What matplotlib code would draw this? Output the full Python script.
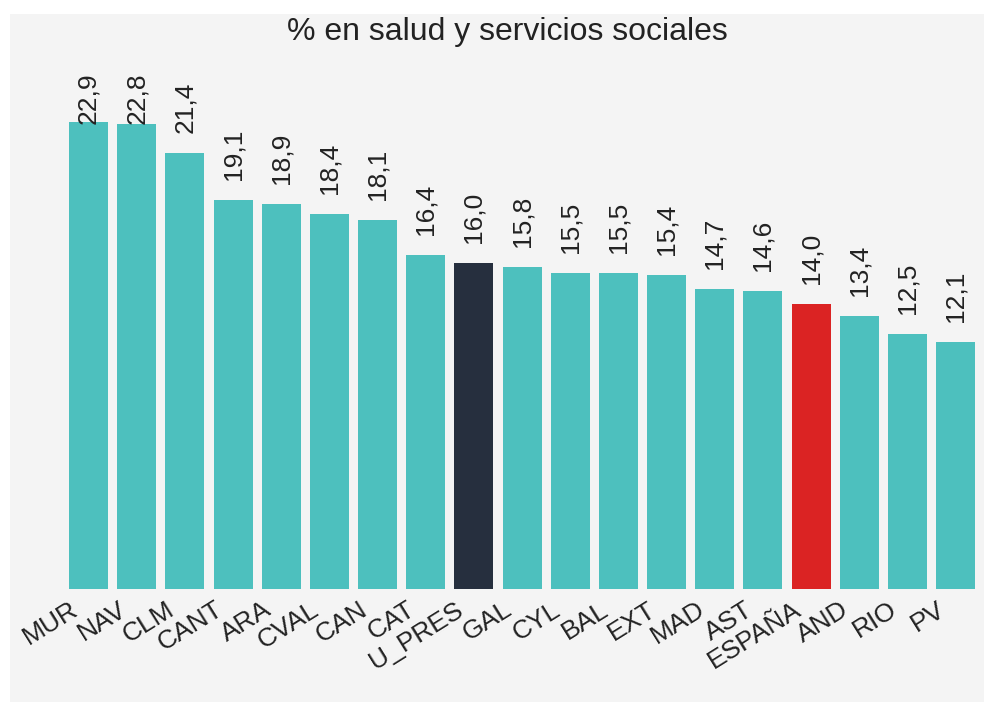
import matplotlib.pyplot as plt
import matplotlib.patches as patches
import matplotlib.transforms as mtransforms

# datos
regiones = ['MUR', 'NAV', 'CLM', 'CANT', 'ARA', 'CVAL', 'CAN', 'CAT', 'U_PRES', 'GAL',
            'CYL', 'BAL', 'EXT', 'MAD', 'AST', 'ESPAÑA', 'AND', 'RIO', 'PV']
valores = [22.9, 22.8, 21.4, 19.1, 18.9, 18.4, 18.1, 16.4, 16.0, 15.8,
           15.5, 15.5, 15.4, 14.7, 14.6, 14.0, 13.4, 12.5, 12.1]

teal = '#4dc0be'
colores = {'U_PRES': '#262f3e', 'ESPAÑA': '#db2323'}
fondo = '#f4f4f4'
texto = '#222222'

plt.rcParams['font.family'] = ['Liberation Sans', 'DejaVu Sans']

W, H = 991, 704
fig = plt.figure(figsize=(W / 100, H / 100), dpi=100)
fig.patch.set_facecolor('white')
# panel gris
fig.add_artist(patches.Rectangle((10 / W, 2 / H), 974 / W, 688 / H,
                                 transform=fig.transFigure, fc=fondo, ec='none', zorder=0))

# ejes colocados a mano (pixeles)
x0, x1 = 20, 1024
y_base, y_top = 589, 60
ax = fig.add_axes([x0 / W, 1 - y_base / H, (x1 - x0) / W, (y_base - y_top) / H])
ax.set_facecolor('none')

ymax = (y_base - y_top) / 20.39
ax.set_ylim(0, ymax)
paso = 48.17
ax.set_xlim(-(88.5 - x0) / paso, (x1 - 88.5) / paso)

cols = [colores.get(r, teal) for r in regiones]
ax.bar(range(len(regiones)), valores, width=0.81, color=cols)

# etiquetas de valor, sin pasarse del techo
for i, v in enumerate(valores):
    y = min(v + 0.98, 22.8)
    ax.text(i, y, f'{v:.1f}'.replace('.', ','), rotation=90, ha='center', va='bottom',
            fontsize=19, color=texto)

ax.set_xticks(range(len(regiones)))
ax.set_xticklabels(regiones, rotation=32, ha='right', fontsize=19, color=texto)
ax.tick_params(axis='x', length=0, pad=6)
desplaza = mtransforms.ScaledTranslation(-6 / 100, 0, fig.dpi_scale_trans)
for lab in ax.get_xticklabels():
    lab.set_transform(lab.get_transform() + desplaza)
ax.set_yticks([])
for s in ax.spines.values():
    s.set_visible(False)

fig.text(507 / W, 1 - 32 / H, '% en salud y servicios sociales', ha='center', va='center',
         fontsize=23, color=texto)

fig.savefig('out.png', dpi=100, facecolor=fig.get_facecolor())
